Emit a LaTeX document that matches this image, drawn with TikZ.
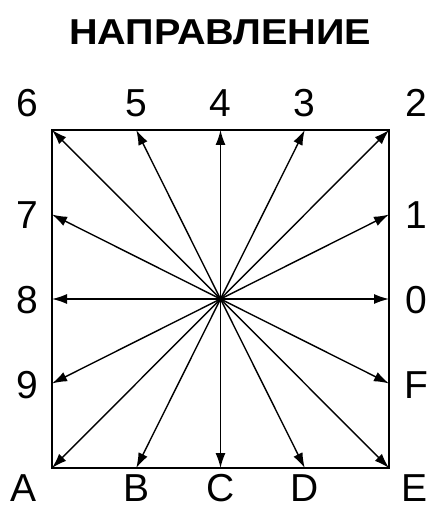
\documentclass[tikz,border=0pt]{standalone}
\usepackage{fontspec}
\setmainfont{Liberation Sans}
\usetikzlibrary{arrows.meta}
\begin{document}
\begin{tikzpicture}[x=1pt,y=-1pt,
  ray/.style={line width=1.4pt,-{Latex[length=15pt,width=10pt]}},
  lbl/.style={anchor=base,inner sep=0pt,font=\fontsize{39}{44}\selectfont},
  box/.style={line width=1.4pt}]
\useasboundingbox (0,0) rectangle (430,510);
\node[inner sep=0pt,xscale=1.1,font=\fontsize{36}{40}\bfseries\selectfont] (title) at (220,32) {НАПРАВЛЕНИЕ};
\coordinate (c) at (220.5,299);
% boundary points
\coordinate (p6) at (52,130);
\coordinate (p5) at (136.25,130);
\coordinate (p4) at (220.5,130);
\coordinate (p3) at (304.75,130);
\coordinate (p2) at (389,130);
\coordinate (p1) at (389,214.5);
\coordinate (p0) at (389,299);
\coordinate (pF) at (389,383.5);
\coordinate (pE) at (389,468);
\coordinate (pD) at (304.75,468);
\coordinate (pC) at (220.5,468);
\coordinate (pB) at (136.25,468);
\coordinate (pA) at (52,468);
\coordinate (p9) at (52,383.5);
\coordinate (p8) at (52,299);
\coordinate (p7) at (52,214.5);
\draw[box] (p6) rectangle (pE);
\foreach \p in {0,1,2,3,4,5,6,7,8,9,A,B,C,D,E,F}
  \draw[ray] (c) -- (p\p);
% labels
\node[lbl] (l6) at (27,117) {6};
\node[lbl] (l5) at (136.25,117) {5};
\node[lbl] (l4) at (220.5,117) {4};
\node[lbl] (l3) at (304.75,117) {3};
\node[lbl] (l2) at (416,117) {2};
\node[lbl] (l7) at (27,229) {7};
\node[lbl] (l8) at (27,313.5) {8};
\node[lbl] (l9) at (27,398) {9};
\node[lbl] (l1) at (416,229) {1};
\node[lbl] (l0) at (416,313.5) {0};
\node[lbl] (lF) at (416,398) {F};
\node[lbl] (lA) at (24,501) {A};
\node[lbl] (lB) at (136.25,501) {B};
\node[lbl] (lC) at (220.5,501) {C};
\node[lbl] (lD) at (304.75,501) {D};
\node[lbl] (lE) at (414,501) {E};
\end{tikzpicture}
\end{document}
